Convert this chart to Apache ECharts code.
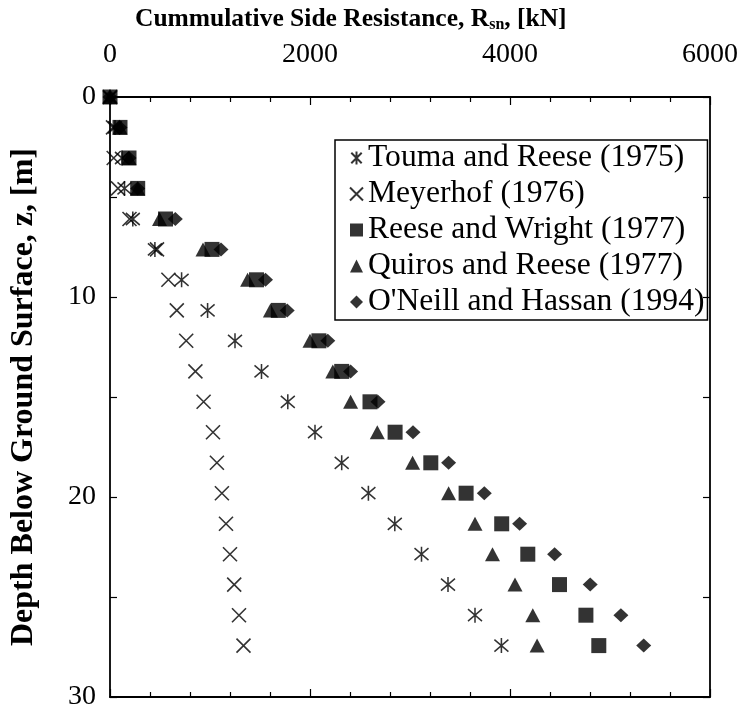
<!DOCTYPE html>
<html>
<head>
    <meta charset="utf-8">
    <title>Cummulative Side Resistance</title>
    <script src="https://cdn.jsdelivr.net/npm/echarts@6.0.0/dist/echarts.min.js"></script>
</head>
<body style="margin:0;background:#fff;">
    <div id="chart" style="width: 744px;height:725px;"></div>
    <script type="text/javascript">
        // depth below ground surface [m]
        var depth = [0, 1.52, 3.05, 4.57, 6.10, 7.62, 9.14, 10.67, 12.19, 13.72,
                     15.24, 16.76, 18.29, 19.81, 21.34, 22.86, 24.38, 25.91, 27.43];

        // cummulative side resistance [kN]
        var touma = [0, 50, 120, 145, 228, 449, 716, 976, 1250, 1515,
                     1778, 2050, 2317, 2584, 2848, 3115, 3380, 3650, 3914];
        var meyerhof = [0, 30, 37, 80, 195, 470, 584, 668, 762, 854,
                        936, 1030, 1069, 1119, 1160, 1200, 1242, 1290, 1335];
        var reeseWright = [0, 100, 190, 277, 555, 1020, 1465, 1683, 2089, 2317,
                           2600, 2851, 3208, 3561, 3917, 4178, 4495, 4759, 4888];
        var quiros = [0, 100, 190, 277, 495, 930, 1376, 1604, 2000, 2228,
                      2406, 2673, 3026, 3386, 3650, 3825, 4050, 4228, 4271];
        var oneill = [0, 100, 190, 277, 653, 1110, 1555, 1772, 2178, 2406,
                      2680, 3030, 3386, 3743, 4096, 4446, 4802, 5109, 5337];

        var names = ['Touma and Reese (1975)', 'Meyerhof (1976)', 'Reese and Wright (1977)',
                     'Quiros and Reese (1977)', "O'Neill and Hassan (1994)"];

        function pairs(vals) {
            return vals.map(function (v, i) { return [v, depth[i]]; });
        }

        var font = 'Liberation Serif';
        var strokeStyle = {color: 'rgba(0,0,0,0)', borderColor: '#000', borderWidth: 1.6};

        var axisLine = {onZero: false, lineStyle: {color: '#000', width: 1.8}};
        var tick = {inside: true, length: 7, lineStyle: {color: '#000', width: 1.2}};
        var xTick = {inside: true, length: 8, lineStyle: {color: '#000', width: 1.2}};
        var xMinor = {show: true, splitNumber: 5, length: 5, lineStyle: {color: '#000', width: 1.2}};

        var option = {
            animation: false,
            backgroundColor: '#fff',
            textStyle: {fontFamily: font, color: '#000'},
            title: {
                text: '{b|Cummulative Side Resistance, R}{s|sn}{b|, [kN]}',
                left: 130,
                top: 0,
                textStyle: {
                    rich: {
                        b: {fontFamily: font, fontWeight: 'bold', fontSize: 25.5, color: '#000'},
                        s: {fontFamily: font, fontWeight: 'bold', fontSize: 16, color: '#000', padding: [12, 0, 0, 0]}
                    }
                }
            },
            grid: {left: 107, right: 34, top: 97, bottom: 28},
            legend: {
                orient: 'vertical',
                left: 335,
                top: 140,
                data: names,
                itemWidth: 13,
                itemHeight: 13,
                itemGap: 2,
                padding: [1, 3, 1, 14],
                borderColor: '#000',
                borderWidth: 1.5,
                textStyle: {fontFamily: font, fontSize: 31.6, color: '#000', lineHeight: 34}
            },
            xAxis: [
                {
                    type: 'value', position: 'top', min: 0, max: 6000, interval: 2000,
                    axisLine: axisLine,
                    axisTick: xTick,
                    minorTick: xMinor,
                    axisLabel: {fontFamily: font, fontSize: 28, color: '#000', margin: 28,
                                formatter: function (v) { return String(v); }},
                    splitLine: {show: false}
                },
                {
                    type: 'value', position: 'bottom', min: 0, max: 6000, interval: 2000,
                    axisLine: axisLine,
                    axisTick: xTick,
                    minorTick: xMinor,
                    axisLabel: {show: false},
                    splitLine: {show: false}
                }
            ],
            yAxis: [
                {
                    type: 'value', inverse: true, min: 0, max: 30, interval: 5,
                    name: 'Depth Below Ground Surface, z, [m]',
                    nameLocation: 'middle', nameRotate: 90, nameGap: 70,
                    nameTextStyle: {fontFamily: font, fontWeight: 'bold', fontSize: 32, color: '#000'},
                    axisLine: axisLine,
                    axisTick: tick,
                    axisLabel: {fontFamily: font, fontSize: 28, color: '#000', margin: 14,
                                formatter: function (v) { return v % 10 === 0 ? String(v) : ''; }},
                    splitLine: {show: false}
                },
                {
                    type: 'value', inverse: true, min: 0, max: 30, interval: 5, position: 'right',
                    axisLine: axisLine,
                    axisTick: tick,
                    axisLabel: {show: false},
                    splitLine: {show: false}
                }
            ],
            series: [
                {
                    name: names[0], type: 'scatter', data: pairs(touma),
                    symbol: 'path://M1,1L9,9M9,1L1,9M5,0L5,10', symbolSize: [14, 15],
                    itemStyle: strokeStyle
                },
                {
                    name: names[1], type: 'scatter', data: pairs(meyerhof),
                    symbol: 'path://M0,0L10,10M10,0L0,10', symbolSize: 14,
                    itemStyle: strokeStyle
                },
                {
                    name: names[2], type: 'scatter', data: pairs(reeseWright),
                    symbol: 'rect', symbolSize: 15, itemStyle: {color: '#000'}
                },
                {
                    name: names[3], type: 'scatter', data: pairs(quiros),
                    symbol: 'triangle', symbolSize: [15, 14], itemStyle: {color: '#000'}
                },
                {
                    name: names[4], type: 'scatter', data: pairs(oneill),
                    symbol: 'diamond', symbolSize: [15, 14], itemStyle: {color: '#000'}
                }
            ]
        };

        var chart = echarts.init(document.getElementById('chart'));
        chart.setOption(option);
    </script>
</body>
</html>
